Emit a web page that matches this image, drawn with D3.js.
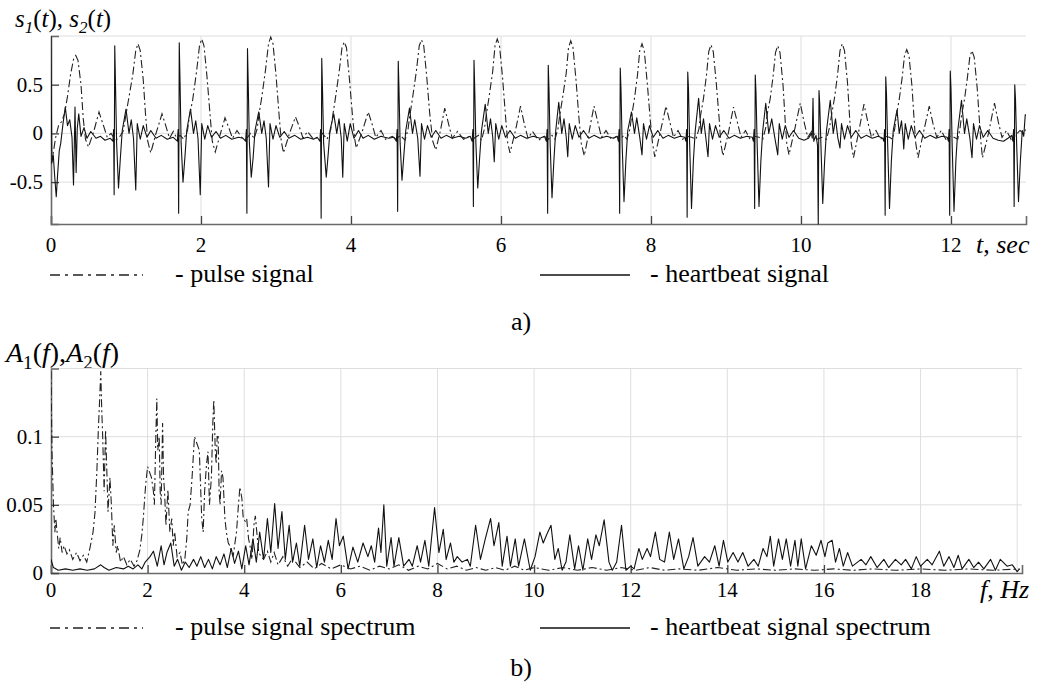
<!DOCTYPE html>
<html>
<head>
<meta charset="utf-8">
<script src="https://cdn.jsdelivr.net/npm/d3@7"></script>
</head>
<body style="margin:0">
<div id="c"></div>
<script>
// ---- data ----
const timeTicks = [0, 2, 4, 6, 8, 10, 12];
const signalTicks = [-0.5, 0, 0.5];
const signalGrid = [-0.5, 0, 0.5, 1];

// pulse signal s1(t): [t sec, value]
const pulseSignal = [
  [0,-0.32],[0.03,-0.2],[0.06,-0.05],[0.1,0.08],[0.14,0.12],[0.18,0.2],[0.22,0.38],[0.26,0.6],[0.3,0.76],[0.33,0.8],[0.36,0.75],[0.4,0.5],[0.43,0.15],[0.46,-0.06],[0.5,-0.14],[0.57,0.02],[0.64,0.22],
  [0.7,0.08],[0.75,-0.04],[0.8,0],[0.86,-0.07],[0.91,-0.04],[0.96,0.02],[0.99,0.15],[1.03,0.33],[1.09,0.6],[1.13,0.85],[1.16,0.92],[1.19,0.85],[1.23,0.55],[1.26,0.2],[1.29,-0.08],[1.33,-0.2],[1.4,0],[1.48,0.2],[1.53,0.08],[1.58,-0.05],[1.63,0.02],[1.68,-0.05],
  [1.72,-0.02],[1.77,-0.06],[1.82,0.03],[1.84,0.15],[1.89,0.35],[1.94,0.63],[1.98,0.9],[2.01,0.97],[2.04,0.9],[2.08,0.58],[2.12,0.2],[2.15,-0.08],[2.19,-0.19],[2.26,0],[2.32,0.16],[2.37,0.06],[2.42,-0.05],[2.48,0.03],[2.54,-0.04],[2.6,-0.06],
  [2.66,0],[2.71,-0.05],[2.75,0.05],[2.77,0.18],[2.81,0.37],[2.86,0.65],[2.9,0.92],[2.93,0.99],[2.96,0.92],[3,0.6],[3.04,0.2],[3.07,-0.08],[3.1,-0.2],[3.18,0],[3.26,0.17],[3.31,0.07],[3.36,-0.05],[3.42,0.02],[3.5,-0.06],[3.56,-0.04],
  [3.62,0],[3.68,-0.06],[3.73,0.04],[3.75,0.15],[3.79,0.35],[3.84,0.62],[3.88,0.88],[3.91,0.94],[3.94,0.88],[3.98,0.55],[4.02,0.18],[4.05,-0.06],[4.07,-0.15],[4.15,0.02],[4.23,0.22],[4.28,0.1],[4.33,-0.04],[4.4,0.03],[4.46,-0.06],[4.55,-0.03],[4.6,-0.06],
  [4.66,-0.02],[4.72,-0.07],[4.76,0.04],[4.78,0.16],[4.82,0.36],[4.87,0.63],[4.91,0.9],[4.94,0.96],[4.97,0.9],[5.01,0.58],[5.05,0.2],[5.09,-0.08],[5.13,-0.17],[5.19,0.02],[5.25,0.26],[5.3,0.1],[5.35,-0.05],[5.42,0.02],[5.5,-0.06],[5.58,-0.03],[5.64,-0.05],
  [5.7,-0.02],[5.74,-0.07],[5.78,0.05],[5.8,0.17],[5.84,0.37],[5.89,0.64],[5.92,0.9],[5.95,0.97],[5.98,0.9],[6.02,0.58],[6.06,0.18],[6.09,-0.1],[6.12,-0.2],[6.19,0.02],[6.26,0.28],[6.31,0.1],[6.36,-0.05],[6.42,0.02],[6.5,-0.07],[6.58,-0.03],[6.63,-0.06],
  [6.68,-0.02],[6.72,-0.06],[6.76,0.05],[6.78,0.17],[6.82,0.36],[6.87,0.62],[6.9,0.88],[6.93,0.95],[6.96,0.88],[7,0.55],[7.04,0.15],[7.07,-0.1],[7.11,-0.23],[7.17,0],[7.24,0.28],[7.29,0.12],[7.34,-0.04],[7.4,0.03],[7.47,-0.06],[7.54,-0.03],[7.59,-0.06],
  [7.64,-0.02],[7.68,-0.06],[7.72,0.05],[7.74,0.17],[7.78,0.36],[7.82,0.6],[7.85,0.85],[7.88,0.92],[7.91,0.85],[7.95,0.52],[7.99,0.14],[8.02,-0.1],[8.05,-0.24],[8.12,0],[8.2,0.28],[8.25,0.12],[8.3,-0.04],[8.36,0.03],[8.42,-0.06],[8.48,-0.03],
  [8.54,-0.04],[8.6,-0.06],[8.64,0.05],[8.66,0.18],[8.7,0.36],[8.74,0.6],[8.77,0.84],[8.8,0.91],[8.83,0.84],[8.87,0.52],[8.91,0.14],[8.93,-0.1],[8.96,-0.23],[9.03,0],[9.1,0.27],[9.15,0.12],[9.2,-0.04],[9.26,0.03],[9.32,-0.06],[9.38,-0.03],
  [9.44,-0.04],[9.49,-0.06],[9.53,0.06],[9.55,0.2],[9.59,0.36],[9.63,0.6],[9.66,0.83],[9.69,0.9],[9.72,0.83],[9.76,0.5],[9.79,0.12],[9.81,-0.1],[9.84,-0.22],[9.91,0.02],[9.99,0.31],[10.04,0.12],[10.09,-0.04],[10.15,0.03],[10.21,-0.06],
  [10.28,-0.04],[10.34,-0.06],[10.38,0.06],[10.41,0.2],[10.45,0.38],[10.49,0.62],[10.52,0.85],[10.55,0.92],[10.58,0.85],[10.62,0.52],[10.65,0.14],[10.67,-0.1],[10.7,-0.25],[10.77,0.02],[10.84,0.3],[10.89,0.12],[10.94,-0.04],[11,0.03],[11.06,-0.06],[11.12,-0.03],
  [11.18,-0.04],[11.22,-0.06],[11.25,0.05],[11.27,0.18],[11.31,0.35],[11.35,0.58],[11.38,0.8],[11.41,0.86],[11.44,0.8],[11.48,0.48],[11.51,0.12],[11.53,-0.1],[11.56,-0.25],[11.63,0],[11.71,0.28],[11.76,0.1],[11.81,-0.04],[11.87,0.03],[11.93,-0.06],[11.98,-0.03],
  [12.04,-0.04],[12.09,-0.06],[12.12,0.05],[12.14,0.18],[12.18,0.35],[12.22,0.58],[12.25,0.78],[12.28,0.85],[12.31,0.78],[12.35,0.46],[12.38,0.12],[12.4,-0.1],[12.42,-0.25],[12.5,0],[12.58,0.31],[12.63,0.12],[12.68,-0.04],[12.74,0.03],[12.8,-0.06],[12.86,-0.02],[12.92,0.03],[12.97,0],[13,0.05]
];

// heartbeat signal s2(t): [t sec, value]
const heartSignal = [
  [0,1],[0.006,0.2],[0.012,-0.3],[0.03,-0.22],[0.05,-0.45],[0.07,-0.65],[0.09,-0.4],[0.11,-0.18],[0.13,-0.1],[0.16,0.1],[0.19,0.27],[0.22,0.08],[0.25,0.14],[0.28,-0.04],[0.3,-0.53],[0.315,0.05],[0.32,0.27],[0.335,-0.4],[0.35,0.05],[0.37,0.2],[0.4,-0.03],[0.44,0.06],[0.48,-0.05],[0.53,0.02],[0.6,-0.05],[0.66,-0.03],[0.72,-0.07],[0.79,-0.05],
  [0.825,-0.08],[0.835,0.04],[0.842,-0.63],[0.85,0.9],[0.86,0.5],[0.875,-0.1],[0.9,-0.56],[0.925,-0.25],[0.95,0.03],[1,0.25],[1.04,0],[1.07,0.14],[1.1,-0.05],[1.13,-0.58],[1.15,0.1],[1.19,-0.06],[1.23,0.08],[1.28,-0.04],[1.33,0.03],[1.4,-0.05],[1.47,-0.02],[1.55,-0.06],[1.63,-0.04],
  [1.685,-0.08],[1.695,0.04],[1.702,-0.82],[1.71,0.93],[1.72,0.55],[1.735,-0.1],[1.76,-0.5],[1.785,-0.25],[1.81,0.03],[1.86,0.25],[1.9,0],[1.93,0.13],[1.96,-0.05],[1.99,-0.63],[2.01,0.1],[2.05,-0.06],[2.09,0.08],[2.14,-0.04],[2.2,0.02],[2.26,-0.05],[2.33,-0.02],[2.41,-0.06],[2.5,-0.04],[2.56,-0.05],
  [2.595,-0.08],[2.605,0.04],[2.612,-0.82],[2.62,0.87],[2.63,0.5],[2.645,-0.1],[2.67,-0.45],[2.695,-0.25],[2.72,0.03],[2.77,0.22],[2.81,0],[2.84,0.13],[2.87,-0.05],[2.9,-0.55],[2.92,0.1],[2.96,-0.06],[3,0.08],[3.05,-0.04],[3.11,0.02],[3.17,-0.05],[3.25,-0.02],[3.33,-0.06],[3.42,-0.04],[3.5,-0.06],[3.55,-0.04],
  [3.585,-0.08],[3.595,0.04],[3.602,-0.87],[3.61,0.77],[3.62,0.45],[3.635,-0.1],[3.67,-0.45],[3.695,-0.22],[3.72,0.03],[3.77,0.2],[3.81,0],[3.84,0.15],[3.87,-0.05],[3.89,-0.45],[3.91,0.1],[3.95,-0.08],[3.99,0.1],[4.04,-0.05],[4.1,0.03],[4.16,-0.05],[4.23,-0.02],[4.31,-0.06],[4.4,-0.03],[4.5,-0.05],[4.57,-0.04],
  [4.605,-0.08],[4.615,0.04],[4.622,-0.8],[4.63,0.74],[4.64,0.45],[4.655,-0.1],[4.68,-0.48],[4.705,-0.22],[4.73,0.03],[4.78,0.26],[4.82,0],[4.85,0.14],[4.89,-0.05],[4.92,-0.44],[4.94,0.1],[4.98,-0.06],[5.02,0.08],[5.07,-0.04],[5.13,0.03],[5.2,-0.05],[5.27,-0.02],[5.35,-0.05],[5.44,-0.03],[5.53,-0.05],[5.59,-0.03],
  [5.615,-0.08],[5.625,0.04],[5.632,-0.75],[5.64,0.75],[5.65,0.45],[5.665,-0.1],[5.69,-0.56],[5.715,-0.25],[5.74,0.03],[5.79,0.3],[5.83,0],[5.86,0.15],[5.89,-0.04],[5.91,-0.29],[5.93,0.1],[5.97,-0.06],[6.01,0.08],[6.06,-0.04],[6.12,0.03],[6.19,-0.05],[6.26,-0.02],[6.34,-0.05],[6.43,-0.03],[6.52,-0.05],[6.58,-0.03],
  [6.605,-0.08],[6.615,0.04],[6.622,-0.82],[6.63,0.7],[6.64,0.45],[6.655,-0.1],[6.68,-0.66],[6.705,-0.28],[6.73,0.03],[6.77,0.32],[6.81,0],[6.84,0.15],[6.87,-0.04],[6.89,-0.24],[6.91,0.1],[6.95,-0.06],[6.99,0.08],[7.04,-0.04],[7.1,0.03],[7.17,-0.05],[7.24,-0.02],[7.32,-0.05],[7.41,-0.03],[7.5,-0.05],[7.55,-0.03],
  [7.565,-0.08],[7.575,0.04],[7.582,-0.82],[7.59,0.67],[7.6,0.45],[7.615,-0.1],[7.64,-0.7],[7.665,-0.28],[7.69,0.03],[7.74,0.22],[7.78,0],[7.81,0.16],[7.85,-0.04],[7.88,-0.22],[7.9,0.1],[7.94,-0.06],[7.98,0.08],[8.03,-0.04],[8.09,0.03],[8.16,-0.05],[8.23,-0.02],[8.31,-0.05],[8.39,-0.03],[8.45,-0.04],
  [8.465,-0.08],[8.475,0.04],[8.482,-0.86],[8.49,0.63],[8.5,0.45],[8.515,-0.1],[8.54,-0.77],[8.565,-0.28],[8.59,0.03],[8.635,0.36],[8.67,0],[8.7,0.15],[8.73,-0.04],[8.76,-0.24],[8.78,0.1],[8.82,-0.06],[8.86,0.08],[8.91,-0.04],[8.97,0.03],[9.04,-0.05],[9.11,-0.02],[9.19,-0.05],[9.28,-0.03],[9.35,-0.04],
  [9.365,-0.08],[9.375,0.04],[9.382,-0.77],[9.39,0.6],[9.4,0.42],[9.415,-0.1],[9.44,-0.75],[9.465,-0.28],[9.49,0.03],[9.53,0.31],[9.57,0],[9.61,0.15],[9.65,-0.04],[9.69,-0.22],[9.71,0.1],[9.75,-0.06],[9.79,0.08],[9.84,-0.04],[9.9,0.03],[9.97,-0.05],[10.04,-0.07],[10.1,-0.05],[10.14,0],
  [10.15,-0.05],[10.16,0.36],[10.17,-0.08],[10.2,-0.02],[10.22,-0.12],[10.23,-0.93],[10.24,0.44],[10.25,0.3],[10.265,-0.1],[10.29,-0.72],[10.315,-0.28],[10.34,0.03],[10.39,0.34],[10.43,0],[10.46,0.15],[10.49,-0.04],[10.52,-0.15],[10.54,0.1],[10.58,-0.06],[10.62,0.08],[10.67,-0.04],[10.73,0.03],[10.8,-0.05],[10.87,-0.02],[10.95,-0.05],[11.03,-0.03],[11.09,-0.05],
  [11.105,-0.08],[11.115,0.04],[11.122,-0.84],[11.13,0.58],[11.14,0.4],[11.155,-0.1],[11.18,-0.77],[11.205,-0.28],[11.23,0.03],[11.28,0.24],[11.31,0],[11.34,0.13],[11.36,-0.04],[11.37,-0.16],[11.39,0.1],[11.43,-0.06],[11.47,0.08],[11.52,-0.04],[11.58,0.03],[11.65,-0.05],[11.72,-0.02],[11.8,-0.05],[11.88,-0.03],[11.95,-0.04],
  [11.965,-0.08],[11.975,0.04],[11.982,-0.84],[11.99,0.64],[12,0.45],[12.015,-0.1],[12.04,-0.8],[12.065,-0.28],[12.09,0.03],[12.14,0.34],[12.18,0],[12.21,0.15],[12.25,-0.04],[12.28,-0.25],[12.3,0.1],[12.34,-0.06],[12.38,0.08],[12.43,-0.04],[12.49,0.03],[12.56,-0.05],[12.63,-0.07],[12.7,-0.08],[12.76,-0.05],[12.81,-0.02],
  [12.825,-0.08],[12.835,0.04],[12.842,-0.75],[12.85,0.5],[12.86,0.35],[12.875,-0.1],[12.9,-0.7],[12.925,-0.28],[12.95,0.03],[12.97,-0.03],[12.99,0.19],[13,0.19]
];

const freqTicks = [0, 2, 4, 6, 8, 10, 12, 14, 16, 18];
const freqGrid = [2, 4, 6, 8, 10, 12, 14, 16, 18, 20];
const ampTicks = [0, 0.05, 0.1];
const ampGrid = [0.05, 0.1, 0.15];

// pulse signal spectrum A1(f): [f Hz, amplitude]
const pulseSpectrum = [
  [0,0.148],[0.02,0.09],[0.05,0.051],[0.08,0.03],[0.1,0.04],[0.12,0.032],[0.16,0.018],[0.19,0.026],[0.23,0.015],[0.27,0.02],[0.33,0.014],[0.38,0.017],[0.45,0.01],[0.53,0.015],[0.6,0.009],[0.67,0.013],[0.74,0.008],
  [0.81,0.019],[0.87,0.03],[0.91,0.044],[0.95,0.075],[0.98,0.105],[1.01,0.13],[1.03,0.148],[1.05,0.12],[1.07,0.1],[1.1,0.06],[1.13,0.105],[1.16,0.07],[1.18,0.045],[1.22,0.07],[1.25,0.05],[1.28,0.02],[1.31,0.035],[1.35,0.015],[1.38,0.02],[1.44,0.008],[1.5,0.012],[1.57,0.006],[1.64,0.01],[1.72,0.005],[1.78,0.009],
  [1.84,0.017],[1.88,0.028],[1.91,0.04],[1.96,0.065],[2,0.078],[2.04,0.074],[2.08,0.07],[2.12,0.06],[2.14,0.05],[2.17,0.1],[2.19,0.128],[2.21,0.09],[2.24,0.1],[2.26,0.06],[2.28,0.05],[2.31,0.11],[2.33,0.07],[2.35,0.06],[2.38,0.035],[2.42,0.061],[2.46,0.03],[2.5,0.04],[2.53,0.02],[2.56,0.03],[2.61,0.012],[2.67,0.015],[2.72,0.006],[2.77,0.01],
  [2.81,0.025],[2.84,0.045],[2.88,0.05],[2.92,0.07],[2.97,0.1],[3.02,0.095],[3.07,0.09],[3.1,0.06],[3.12,0.04],[3.15,0.03],[3.18,0.06],[3.22,0.08],[3.25,0.089],[3.28,0.05],[3.32,0.07],[3.35,0.11],[3.37,0.127],[3.4,0.09],[3.42,0.08],[3.44,0.1],[3.46,0.1],[3.48,0.06],[3.5,0.05],[3.53,0.075],[3.56,0.07],[3.6,0.04],[3.63,0.03],[3.67,0.022],[3.7,0.02],[3.74,0.015],[3.77,0.012],
  [3.8,0.02],[3.84,0.03],[3.88,0.05],[3.91,0.063],[3.95,0.055],[3.98,0.04],[4.02,0.038],[4.05,0.04],[4.09,0.025],[4.12,0.02],[4.16,0.01],[4.2,0.035],[4.23,0.042],[4.26,0.03],[4.3,0.015],[4.35,0.012],[4.4,0.01],[4.48,0.016],[4.55,0.008],[4.62,0.015],[4.7,0.006],[4.8,0.012],[4.9,0.005],[5,0.011],
  [5.15,0.004],[5.3,0.008],[5.45,0.003],[5.6,0.007],[5.8,0.003],[6,0.006],[6.2,0.003],[6.4,0.005],[6.6,0.002],[6.8,0.005],[7,0.003],[7.2,0.006],[7.4,0.002],[7.6,0.005],[7.8,0.003],[8,0.007],[8.2,0.003],[8.4,0.005],[8.6,0.002],[8.8,0.004],[9,0.002],[9.2,0.004],[9.4,0.002],[9.6,0.005],[9.8,0.002],[10,0.004],
  [10.3,0.002],[10.6,0.004],[10.9,0.002],[11.2,0.004],[11.5,0.002],[11.8,0.004],[12.1,0.002],[12.4,0.004],[12.7,0.002],[13,0.003],[13.4,0.002],[13.8,0.004],[14.2,0.002],[14.6,0.003],[15,0.002],[15.4,0.003],[15.8,0.002],[16.2,0.003],[16.6,0.002],[17,0.003],[17.5,0.002],[18,0.003],[18.5,0.002],[19,0.003],[19.5,0.002],[20.05,0.003]
];

// heartbeat signal spectrum A2(f): [f Hz, amplitude]
const heartSpectrum = [
  [0,0.01],[0.05,0.004],[0.15,0.002],[0.3,0.003],[0.45,0.002],[0.6,0.003],[0.75,0.002],[0.9,0.003],[1.03,0.006],[1.1,0.004],[1.2,0.002],[1.35,0.004],[1.5,0.003],[1.6,0.005],[1.7,0.003],[1.8,0.006],[1.88,0.003],[1.95,0.008],
  [2.05,0.012],[2.12,0.016],[2.2,0.005],[2.28,0.02],[2.34,0.006],[2.4,0.015],[2.48,0.022],[2.55,0.005],[2.62,0.01],[2.7,0.002],[2.78,0.008],[2.86,0.004],[2.95,0.01],[3.02,0.005],[3.1,0.012],[3.18,0.004],[3.26,0.01],[3.34,0.003],[3.42,0.012],[3.5,0.006],[3.58,0.014],[3.65,0.004],[3.73,0.018],[3.8,0.007],[3.88,0.016],[3.95,0.003],
  [4.03,0.02],[4.1,0.006],[4.18,0.025],[4.25,0.008],[4.32,0.03],[4.4,0.01],[4.48,0.04],[4.55,0.015],[4.63,0.051],[4.7,0.018],[4.78,0.045],[4.85,0.01],[4.93,0.035],[5,0.008],[5.08,0.022],[5.15,0.005],[5.25,0.035],[5.33,0.01],[5.42,0.025],[5.5,0.004],[5.58,0.02],[5.66,0.008],[5.74,0.024],[5.82,0.01],[5.9,0.04],[5.97,0.02],
  [6.05,0.027],[6.15,0.003],[6.25,0.019],[6.35,0.008],[6.46,0.022],[6.56,0.012],[6.63,0.02],[6.7,0.008],[6.78,0.033],[6.83,0.015],[6.89,0.05],[6.95,0.005],[7.04,0.026],[7.1,0.005],[7.2,0.026],[7.3,0.005],[7.41,0.01],[7.48,0.005],[7.58,0.02],[7.65,0.008],[7.74,0.024],[7.82,0.005],[7.94,0.048],
  [8.03,0.015],[8.12,0.032],[8.18,0.01],[8.27,0.022],[8.34,0.008],[8.41,0.012],[8.51,0.008],[8.62,0.01],[8.68,0.005],[8.79,0.035],[8.89,0.01],[8.99,0.025],[9.1,0.04],[9.17,0.02],[9.27,0.037],[9.34,0.005],[9.44,0.027],[9.51,0.005],[9.61,0.025],[9.68,0.005],[9.8,0.025],[9.92,0.002],
  [10.02,0.012],[10.12,0.03],[10.19,0.022],[10.26,0.028],[10.35,0.035],[10.43,0.01],[10.5,0.018],[10.58,0.002],[10.66,0.008],[10.74,0.028],[10.84,0.003],[10.92,0.02],[11.01,0.002],[11.11,0.025],[11.19,0.01],[11.28,0.028],[11.35,0.02],[11.45,0.039],[11.55,0.008],[11.62,0.002],[11.71,0.008],[11.81,0.035],[11.9,0.002],
  [12,0.005],[12.07,0.003],[12.17,0.018],[12.24,0.01],[12.34,0.018],[12.41,0.012],[12.51,0.03],[12.6,0.01],[12.7,0.008],[12.8,0.03],[12.89,0.01],[12.99,0.025],[13.1,0.003],[13.2,0.012],[13.29,0.026],[13.39,0.005],[13.53,0.012],[13.63,0.008],[13.74,0.02],[13.83,0.005],[13.92,0.024],
  [14.01,0.008],[14.12,0.015],[14.22,0.008],[14.32,0.015],[14.43,0.005],[14.55,0.01],[14.64,0.005],[14.74,0.018],[14.82,0.012],[14.89,0.027],[14.96,0.005],[15.06,0.025],[15.14,0.01],[15.22,0.025],[15.31,0.005],[15.4,0.024],[15.46,0.005],[15.53,0.025],[15.62,0.003],[15.74,0.02],[15.84,0.013],[15.94,0.024],
  [16.02,0.012],[16.08,0.022],[16.17,0.024],[16.24,0.008],[16.32,0.018],[16.4,0.005],[16.49,0.015],[16.59,0.005],[16.77,0.01],[16.87,0.006],[16.97,0.012],[17.1,0.004],[17.24,0.01],[17.34,0.004],[17.48,0.01],[17.6,0.006],[17.69,0.01],[17.81,0.003],[17.91,0.012],
  [18,0.005],[18.14,0.01],[18.24,0.006],[18.39,0.016],[18.48,0.005],[18.59,0.012],[18.69,0.004],[18.78,0.013],[18.86,0.003],[19,0.01],[19.1,0.004],[19.2,0.008],[19.31,0.003],[19.45,0.01],[19.55,0.002],[19.65,0.01],[19.79,0.005],[19.9,0.006],[20,0.001],[20.05,0.003]
];

// ---- drawing ----
const svg = d3.select("#c").append("svg").attr("width", 1043).attr("height", 687);
const serif = "'Liberation Serif'";
const DASHDOT = "8,3,2,3";
if (document.fonts && document.fonts.load) document.fonts.load("26px " + serif);

// texts go in first
function label(x, y, str, size, anchor) {
  return svg.append("text").attr("x", x).attr("y", y)
    .style("font-family", serif).style("font-size", size + "px")
    .attr("text-anchor", anchor || "start")
    .text(str);
}

// rich label: parts of {t, it (italic), sub}
function richText(x, y, parts, size) {
  const t = svg.append("text").attr("x", x).attr("y", y)
    .style("font-family", serif).style("font-size", size + "px");
  let shift = 0;
  parts.forEach(p => {
    const dy = (p.sub ? size * 0.25 : 0) - shift;
    shift = p.sub ? size * 0.25 : 0;
    t.append("tspan")
      .attr("dy", dy)
      .style("font-style", p.it ? "italic" : "normal")
      .style("font-size", (p.sub ? size * 0.68 : size) + "px")
      .text(p.t);
  });
}

richText(15, 27, [
  {t: "s", it: 1}, {t: "1", it: 1, sub: 1}, {t: "("}, {t: "t", it: 1}, {t: "), "},
  {t: "s", it: 1}, {t: "2", it: 1, sub: 1}, {t: "("}, {t: "t", it: 1}, {t: ")"}
], 25);
richText(976, 253, [{t: "t", it: 1}, {t: ", "}, {t: "sec", it: 1}], 26);
richText(6, 362, [
  {t: "A", it: 1}, {t: "1", sub: 1}, {t: "("}, {t: "f", it: 1}, {t: "),"},
  {t: "A", it: 1}, {t: "2", sub: 1}, {t: "("}, {t: "f", it: 1}, {t: ")"}
], 28);
richText(980, 598, [{t: "f", it: 1}, {t: ", "}, {t: "Hz", it: 1}], 26);

function legendRow(y, pulseLabel, heartLabel) {
  svg.append("line").attr("x1", 50).attr("x2", 143).attr("y1", y).attr("y2", y)
    .attr("stroke", "#222").attr("stroke-width", 1.3).attr("stroke-dasharray", "10,5,3,5");
  label(175, y + 7, "-  " + pulseLabel, 26);
  svg.append("line").attr("x1", 540).attr("x2", 630).attr("y1", y).attr("y2", y)
    .attr("stroke", "#111").attr("stroke-width", 1.5);
  label(650, y + 7, "-  " + heartLabel, 26);
}
legendRow(275, "pulse signal", "heartbeat signal");
legendRow(628, "pulse signal spectrum", "heartbeat signal spectrum");
label(521, 330, "a)", 26, "middle");
label(521, 676, "b)", 26, "middle");

function panel(cfg) {
  const x = d3.scaleLinear().domain(cfg.xDomain).range([cfg.left, cfg.right]);
  const y = d3.scaleLinear().domain(cfg.yDomain).range([cfg.bottom, cfg.top]);
  const id = "clip" + cfg.name;

  svg.append("clipPath").attr("id", id)
    .append("rect")
      .attr("x", cfg.left).attr("y", cfg.top - 1)
      .attr("width", cfg.right - cfg.left).attr("height", cfg.bottom - cfg.top + 2);

  // grid
  const g = svg.append("g");
  g.selectAll(".gx").data(cfg.xGrid).join("line")
    .attr("x1", d => x(d)).attr("x2", d => x(d))
    .attr("y1", cfg.top).attr("y2", cfg.bottom)
    .attr("stroke", "#dedede").attr("stroke-width", 1);
  g.selectAll(".gy").data(cfg.yGrid).join("line")
    .attr("x1", cfg.left).attr("x2", cfg.right)
    .attr("y1", d => y(d)).attr("y2", d => y(d))
    .attr("stroke", "#dedede").attr("stroke-width", 1);

  // tick labels as plain texts, ticks and axis lines through d3 axes
  const ax = svg.append("g")
    .attr("transform", `translate(0,${cfg.bottom})`)
    .call(d3.axisBottom(x).tickValues(cfg.xTicks).tickSize(-8).tickFormat(""));
  const ay = svg.append("g")
    .attr("transform", `translate(${cfg.left},0)`)
    .call(d3.axisLeft(y).tickValues(cfg.yTicks).tickSize(-8).tickFormat(""));
  [ax, ay].forEach(a => {
    a.select(".domain").attr("stroke", "#6a6a6a").attr("stroke-width", 1.6);
    a.selectAll(".tick line").attr("stroke", "#444").attr("stroke-width", 1.3);
  });
  cfg.xTicks.forEach(d => label(x(d), cfg.bottom + cfg.xPad, String(d), 21, "middle"));
  cfg.yTicks.forEach(d => label(cfg.left - 8, y(d) + 7, String(d), 21, "end"));

  const line = d3.line().x(d => x(d[0])).y(d => y(d[1]));
  const lines = svg.append("g").attr("clip-path", `url(#${id})`);
  lines.append("path").datum(cfg.solid)
    .attr("d", line).attr("fill", "none")
    .attr("stroke", "#111").attr("stroke-width", 1.1).attr("stroke-linejoin", "round");
  lines.append("path").datum(cfg.dashed)
    .attr("d", line).attr("fill", "none")
    .attr("stroke", "#222").attr("stroke-width", 1.1)
    .attr("stroke-dasharray", DASHDOT);
}

panel({
  name: "a", left: 51, right: 1026, top: 36, bottom: 224,
  xDomain: [0, 13], yDomain: [-0.93, 1],
  xTicks: timeTicks, xGrid: timeTicks.slice(1), yTicks: signalTicks, yGrid: signalGrid,
  xPad: 28, solid: heartSignal, dashed: pulseSignal
});

panel({
  name: "b", left: 51, right: 1022, top: 368.5, bottom: 573,
  xDomain: [0, 20.1], yDomain: [0, 0.15],
  xTicks: freqTicks, xGrid: freqGrid, yTicks: ampTicks, yGrid: ampGrid,
  xPad: 24, solid: heartSpectrum, dashed: pulseSpectrum
});
</script>
</body>
</html>
